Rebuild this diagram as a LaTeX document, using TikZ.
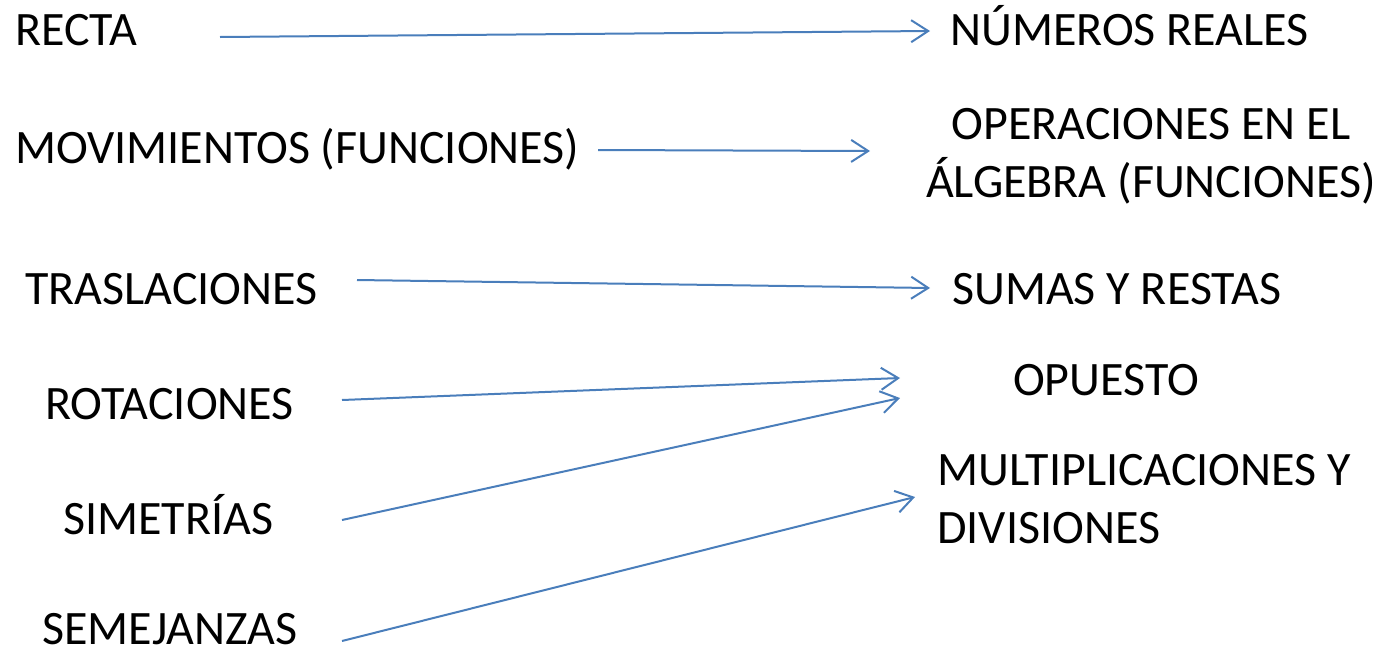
\documentclass[tikz,border=0pt]{standalone}
\usepackage{fontspec}
\setmainfont{Carlito}
\usetikzlibrary{arrows.meta}
\definecolor{arrblue}{HTML}{4A7EBB}

\begin{document}
\begin{tikzpicture}[
    x=1pt, y=-1pt,
    term/.style={anchor=base west, inner sep=0pt, font=\fontsize{48}{58}\selectfont},
    arr/.style={-{Straight Barb[length=17pt, width=22pt, line width=2pt]}, line width=2pt, draw=arrblue},
]
\useasboundingbox (0,0) rectangle (1378,651);

% left column: geometry
\node[term] (recta) at (15,45) {RECTA};
\node[term] (movim) at (15,163) {MOVIMIENTOS (FUNCIONES)};
\node[term] (trasl) at (25,304) {TRASLACIONES};
\node[term] (rotac) at (45,419) {ROTACIONES};
\node[term] (simet) at (63,534) {SIMETRÍAS};
\node[term] (semej) at (42,644) {SEMEJANZAS};

% right column: algebra (base anchor = last line)
\node[term] (reales) at (950,45) {NÚMEROS REALES};
\node[term, anchor=base, align=center] (operac) at (1151,197) {OPERACIONES EN EL\\ÁLGEBRA (FUNCIONES)};
\node[term] (sumas) at (952,304) {SUMAS Y RESTAS};
\node[term] (opuesto) at (1013,395) {OPUESTO};
\node[term, align=left] (multip) at (937,543) {MULTIPLICACIONES Y\\DIVISIONES};

% arrow end points
\coordinate (recta-out) at (220,37);
\coordinate (reales-in) at (930,31);
\coordinate (movim-out) at (598,150);
\coordinate (operac-in) at (870,151);
\coordinate (trasl-out) at (357,280);
\coordinate (sumas-in) at (930,288);
\coordinate (rotac-out) at (342,400);
\coordinate (opuesto-in1) at (900,378);
\coordinate (simet-out) at (342,520);
\coordinate (opuesto-in2) at (900,398);
\coordinate (semej-out) at (342,641);
\coordinate (multip-in) at (915,497);

\draw[arr] (recta-out) -- (reales-in);
\draw[arr] (movim-out) -- (operac-in);
\draw[arr] (trasl-out) -- (sumas-in);
\draw[arr] (rotac-out) -- (opuesto-in1);
\draw[arr] (simet-out) -- (opuesto-in2);
\draw[arr] (semej-out) -- (multip-in);
\end{tikzpicture}
\end{document}
